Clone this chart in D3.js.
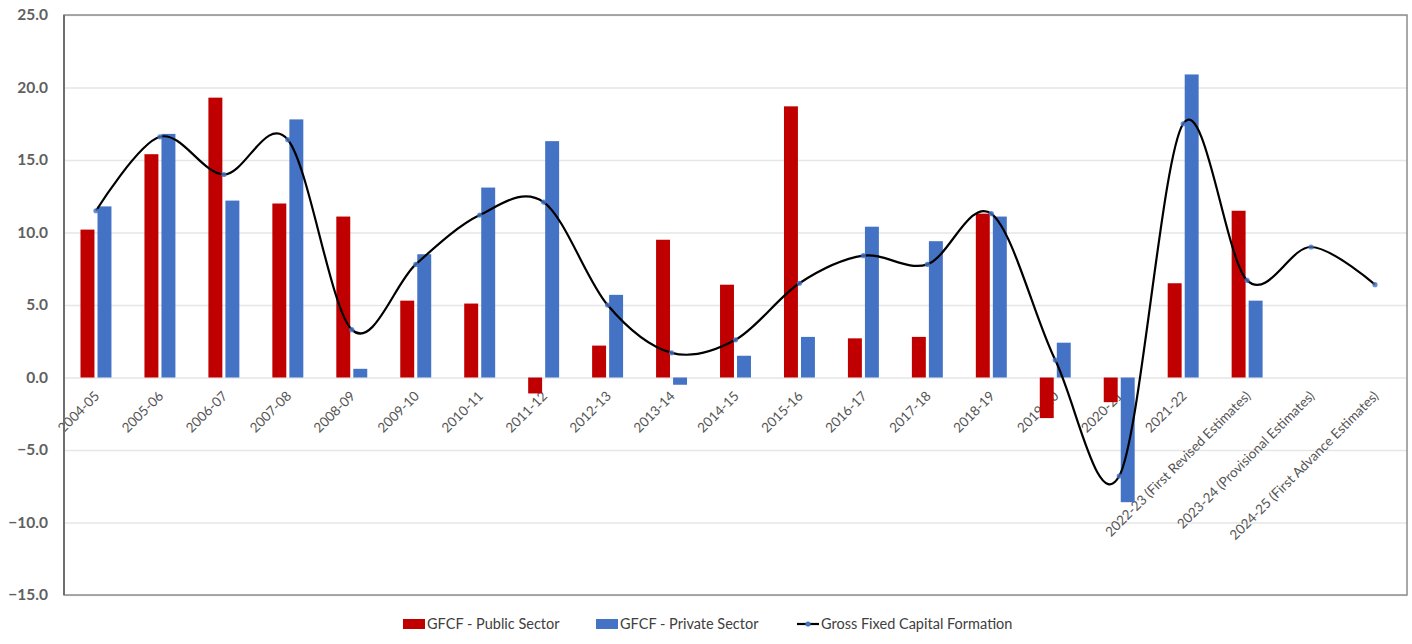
<!DOCTYPE html>
<html>
<head>
<meta charset="utf-8">
<script src="https://cdn.jsdelivr.net/npm/d3@7"></script>
<style>
  body { margin: 0; background: #fff; }
  svg { display: block; font-family: Lato, "Open Sans", sans-serif; }
</style>
</head>
<body>
<div id="chart"></div>
<script>
// chart data (growth %)
const categories = ["2004-05", "2005-06", "2006-07", "2007-08", "2008-09", "2009-10", "2010-11",
    "2011-12", "2012-13", "2013-14", "2014-15", "2015-16", "2016-17", "2017-18", "2018-19",
    "2019-20", "2020-21", "2021-22", "2022-23 (First Revised Estimates)",
    "2023-24 (Provisional Estimates)", "2024-25 (First Advance Estimates)"];
const publicSector = [10.2, 15.4, 19.3, 12.0, 11.1, 5.3, 5.1, -1.1, 2.2, 9.5, 6.4, 18.7, 2.7, 2.8, 11.3,
    -2.8, -1.7, 6.5, 11.5, null, null];
const privateSector = [11.8, 16.8, 12.2, 17.8, 0.6, 8.5, 13.1, 16.3, 5.7, -0.5, 1.5, 2.8, 10.4, 9.4, 11.1,
    2.4, -8.6, 20.9, 5.3, null, null];
const gfcf = [11.5, 16.6, 14.0, 16.4, 3.3, 7.8, 11.2, 12.1, 5.0, 1.7, 2.6, 6.5, 8.4, 7.8, 11.3,
    1.2, -6.8, 17.5, 6.7, 9.0, 6.4];
const yTicks = [-15, -10, -5, 0, 5, 10, 15, 20, 25];
const seriesNames = ["GFCF - Public Sector", "GFCF - Private Sector", "Gross Fixed Capital Formation"];

const RED = "#C00000", BLUE = "#4472C4";

const W = 1412, H = 644;
const margin = {top: 15, right: 5, bottom: 49, left: 64};
const width = W - margin.left - margin.right;
const height = H - margin.top - margin.bottom;

const svg = d3.select("#chart").append("svg")
    .attr("width", W)
    .attr("height", H);

const g = svg.append("g")
    .attr("transform", "translate(" + margin.left + "," + margin.top + ")");

// scales
const x = d3.scaleBand().domain(categories).range([0, width]);
const xSub = d3.scaleBand().domain(["pub", "priv"]).range([0, x.bandwidth()])
    .paddingInner(0.18).paddingOuter(0.97);
const y = d3.scaleLinear().domain([-15, 25]).range([height, 0]);

// gridlines
g.append("g")
    .attr("class", "grid")
    .call(d3.axisLeft(y).tickValues(yTicks).tickSize(-width).tickFormat(""))
    .call(s => s.select(".domain").remove())
    .selectAll("line")
    .attr("stroke", "#e6e6e6")
    .attr("stroke-width", 1.5);

// y axis labels
g.append("g")
    .call(d3.axisLeft(y).tickValues(yTicks).tickSize(0).tickPadding(16).tickFormat(d3.format(".1f")))
    .call(s => s.select(".domain").remove())
    .selectAll("text")
    .attr("font-family", "Lato, sans-serif")
    .attr("font-size", 15.5)
    .attr("font-weight", 700)
    .attr("fill", "#606060");

// x labels (drawn under bars, hanging from the zero line)
g.append("g")
    .selectAll("text")
    .data(categories)
    .join("text")
    .attr("transform", d => "translate(" + (x(d) + x.bandwidth() / 2 + 1) + "," + (y(0) + 16) + ") rotate(-45)")
    .attr("text-anchor", "end")
    .attr("dy", "0.35em")
    .attr("font-size", 13.5)
    .attr("fill", "#555")
    .text(d => d);

// bars
const barData = [];
categories.forEach((c, i) => {
    if (publicSector[i] != null) barData.push({cat: c, key: "pub", value: publicSector[i]});
    if (privateSector[i] != null) barData.push({cat: c, key: "priv", value: privateSector[i]});
});

g.append("g")
    .selectAll("rect")
    .data(barData)
    .join("rect")
    .attr("x", d => x(d.cat) + xSub(d.key))
    .attr("width", xSub.bandwidth())
    .attr("y", d => y(Math.max(0, d.value)))
    .attr("height", d => Math.abs(y(d.value) - y(0)))
    .attr("fill", d => d.key === "pub" ? RED : BLUE);

// smoothed total line
const line = d3.line()
    .x((d, i) => x(categories[i]) + x.bandwidth() / 2)
    .y(d => y(d))
    .curve(d3.curveCardinal.tension(0));

g.append("path")
    .datum(gfcf)
    .attr("d", line)
    .attr("fill", "none")
    .attr("stroke", "#000")
    .attr("stroke-width", 2.2);

g.append("g")
    .selectAll("circle")
    .data(gfcf)
    .join("circle")
    .attr("cx", (d, i) => x(categories[i]) + x.bandwidth() / 2)
    .attr("cy", d => y(d))
    .attr("r", 2.6)
    .attr("fill", BLUE)
    .attr("opacity", 0.8);

// plot border
g.append("rect")
    .attr("width", width)
    .attr("height", height)
    .attr("fill", "none")
    .attr("stroke", "#8c8c8c")
    .attr("stroke-width", 1.5);
g.append("line")
    .attr("x1", 0).attr("x2", 0)
    .attr("y1", 0).attr("y2", height)
    .attr("stroke", "#6e6e6e")
    .attr("stroke-width", 2);

// legend
const legend = svg.append("g").attr("transform", "translate(0,624)");
const legendX = [403, 596, 797];

seriesNames.forEach((name, i) => {
    const lg = legend.append("g").attr("transform", "translate(" + legendX[i] + ",0)");
    if (i < 2) {
        lg.append("rect")
            .attr("x", 0).attr("y", -5)
            .attr("width", 22).attr("height", 10)
            .attr("fill", i === 0 ? RED : BLUE);
    } else {
        lg.append("line")
            .attr("x1", 0).attr("x2", 22)
            .attr("stroke", "#000").attr("stroke-width", 2.2);
        lg.append("circle")
            .attr("cx", 11).attr("r", 2.6)
            .attr("fill", BLUE);
    }
    lg.append("text")
        .attr("x", 24)
        .attr("dy", "0.35em")
        .attr("font-size", 14.5)
        .attr("fill", "#404040")
        .text(name);
});
</script>
</body>
</html>
